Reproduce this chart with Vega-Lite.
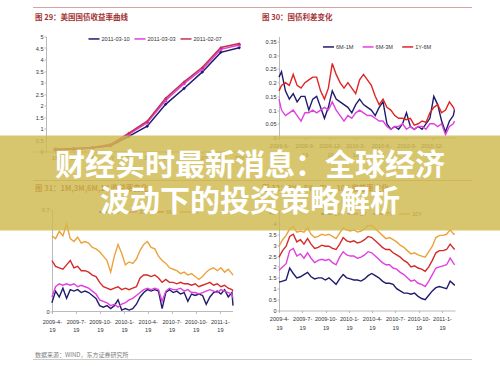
{
  "$schema": "https://vega.github.io/schema/vega-lite/v6.json",
  "background": "white",
  "padding": {"left": 0, "top": 6.5, "right": 0, "bottom": 0},
  "config": {
    "view": {"stroke": null},
    "font": "Liberation Sans",
    "axis": {"grid": false, "domainColor": "#a8a8a8", "domainWidth": 0.8, "tickColor": "#a8a8a8", "tickWidth": 0.8, "tickSize": 2, "labelFont": "Liberation Sans", "labelFontSize": 5.6, "labelColor": "#333333", "labelPadding": 1},
    "legend": {"labelFont": "Liberation Sans", "labelFontSize": 5.6, "labelColor": "#333333", "padding": 0, "labelOffset": 1, "symbolType": "stroke", "symbolSize": 121, "symbolStrokeWidth": 1.5},
    "title": {"font": "Noto Sans CJK SC", "fontSize": 7.5, "fontWeight": "bold", "color": "#a33435", "anchor": "start", "frame": "group"}
  },
  "datasets": {
    "curve": [
      {"term": "1M", "2011-03-10": 0.08, "2011-03-03": 0.10, "2011-02-07": 0.10},
      {"term": "3M", "2011-03-10": 0.10, "2011-03-03": 0.12, "2011-02-07": 0.13},
      {"term": "6M", "2011-03-10": 0.15, "2011-03-03": 0.16, "2011-02-07": 0.17},
      {"term": "1Y", "2011-03-10": 0.25, "2011-03-03": 0.28, "2011-02-07": 0.30},
      {"term": "2Y", "2011-03-10": 0.66, "2011-03-03": 0.75, "2011-02-07": 0.80},
      {"term": "3Y", "2011-03-10": 1.10, "2011-03-03": 1.25, "2011-02-07": 1.32},
      {"term": "5Y", "2011-03-10": 2.05, "2011-03-03": 2.22, "2011-02-07": 2.31},
      {"term": "7Y", "2011-03-10": 2.74, "2011-03-03": 2.95, "2011-02-07": 3.03},
      {"term": "10Y", "2011-03-10": 3.46, "2011-03-03": 3.58, "2011-02-07": 3.66},
      {"term": "20Y", "2011-03-10": 4.31, "2011-03-03": 4.44, "2011-02-07": 4.52},
      {"term": "30Y", "2011-03-10": 4.51, "2011-03-03": 4.63, "2011-02-07": 4.70}
    ],
    "spread": [
      {"d": "2009-06-19", "6M-1M": 0.22, "6M-3M": 0.14, "1Y-6M": 0.17},
      {"d": "2009-06-28", "6M-1M": 0.24, "6M-3M": 0.10, "1Y-6M": 0.19},
      {"d": "2009-07-12", "6M-1M": 0.17, "6M-3M": 0.08, "1Y-6M": 0.20},
      {"d": "2009-07-26", "6M-1M": 0.14, "6M-3M": 0.09, "1Y-6M": 0.19},
      {"d": "2009-08-09", "6M-1M": 0.16, "6M-3M": 0.10, "1Y-6M": 0.23},
      {"d": "2009-08-23", "6M-1M": 0.13, "6M-3M": 0.08, "1Y-6M": 0.19},
      {"d": "2009-09-06", "6M-1M": 0.15, "6M-3M": 0.06, "1Y-6M": 0.18},
      {"d": "2009-09-20", "6M-1M": 0.15, "6M-3M": 0.09, "1Y-6M": 0.20},
      {"d": "2009-10-04", "6M-1M": 0.10, "6M-3M": 0.09, "1Y-6M": 0.21},
      {"d": "2009-10-18", "6M-1M": 0.14, "6M-3M": 0.10, "1Y-6M": 0.22},
      {"d": "2009-11-01", "6M-1M": 0.15, "6M-3M": 0.09, "1Y-6M": 0.22},
      {"d": "2009-11-15", "6M-1M": 0.11, "6M-3M": 0.10, "1Y-6M": 0.17},
      {"d": "2009-11-29", "6M-1M": 0.07, "6M-3M": 0.11, "1Y-6M": 0.14},
      {"d": "2009-12-13", "6M-1M": 0.11, "6M-3M": 0.10, "1Y-6M": 0.18},
      {"d": "2009-12-27", "6M-1M": 0.17, "6M-3M": 0.13, "1Y-6M": 0.27},
      {"d": "2010-01-10", "6M-1M": 0.14, "6M-3M": 0.10, "1Y-6M": 0.23},
      {"d": "2010-01-24", "6M-1M": 0.13, "6M-3M": 0.08, "1Y-6M": 0.20},
      {"d": "2010-02-07", "6M-1M": 0.12, "6M-3M": 0.06, "1Y-6M": 0.18},
      {"d": "2010-02-21", "6M-1M": 0.11, "6M-3M": 0.08, "1Y-6M": 0.20},
      {"d": "2010-03-07", "6M-1M": 0.09, "6M-3M": 0.07, "1Y-6M": 0.18},
      {"d": "2010-03-21", "6M-1M": 0.12, "6M-3M": 0.09, "1Y-6M": 0.16},
      {"d": "2010-04-04", "6M-1M": 0.14, "6M-3M": 0.10, "1Y-6M": 0.21},
      {"d": "2010-04-18", "6M-1M": 0.12, "6M-3M": 0.09, "1Y-6M": 0.23},
      {"d": "2010-05-02", "6M-1M": 0.11, "6M-3M": 0.08, "1Y-6M": 0.21},
      {"d": "2010-05-16", "6M-1M": 0.10, "6M-3M": 0.08, "1Y-6M": 0.19},
      {"d": "2010-05-30", "6M-1M": 0.08, "6M-3M": 0.07, "1Y-6M": 0.15},
      {"d": "2010-06-13", "6M-1M": 0.11, "6M-3M": 0.06, "1Y-6M": 0.12},
      {"d": "2010-06-27", "6M-1M": 0.13, "6M-3M": 0.06, "1Y-6M": 0.14},
      {"d": "2010-07-11", "6M-1M": 0.05, "6M-3M": 0.04, "1Y-6M": 0.11},
      {"d": "2010-07-25", "6M-1M": 0.03, "6M-3M": 0.03, "1Y-6M": 0.10},
      {"d": "2010-08-08", "6M-1M": 0.04, "6M-3M": 0.04, "1Y-6M": 0.08},
      {"d": "2010-08-22", "6M-1M": 0.03, "6M-3M": 0.04, "1Y-6M": 0.07},
      {"d": "2010-09-05", "6M-1M": 0.05, "6M-3M": 0.05, "1Y-6M": 0.07},
      {"d": "2010-09-19", "6M-1M": 0.09, "6M-3M": 0.03, "1Y-6M": 0.065},
      {"d": "2010-10-03", "6M-1M": 0.04, "6M-3M": 0.04, "1Y-6M": 0.07},
      {"d": "2010-10-17", "6M-1M": 0.03, "6M-3M": 0.03, "1Y-6M": 0.045},
      {"d": "2010-10-31", "6M-1M": 0.04, "6M-3M": 0.04, "1Y-6M": 0.05},
      {"d": "2010-11-14", "6M-1M": 0.03, "6M-3M": 0.04, "1Y-6M": 0.06},
      {"d": "2010-11-28", "6M-1M": 0.05, "6M-3M": 0.03, "1Y-6M": 0.055},
      {"d": "2010-12-12", "6M-1M": 0.07, "6M-3M": 0.05, "1Y-6M": 0.09},
      {"d": "2010-12-26", "6M-1M": 0.15, "6M-3M": 0.05, "1Y-6M": 0.11},
      {"d": "2011-01-09", "6M-1M": 0.12, "6M-3M": 0.04, "1Y-6M": 0.12},
      {"d": "2011-01-23", "6M-1M": 0.06, "6M-3M": 0.05, "1Y-6M": 0.09},
      {"d": "2011-02-06", "6M-1M": 0.02, "6M-3M": 0.01, "1Y-6M": 0.10},
      {"d": "2011-02-20", "6M-1M": 0.06, "6M-3M": 0.04, "1Y-6M": 0.13},
      {"d": "2011-03-06", "6M-1M": 0.08, "6M-3M": 0.05, "1Y-6M": 0.11},
      {"d": "2011-03-10", "6M-1M": 0.10, "6M-3M": 0.06, "1Y-6M": 0.10}
    ],
    "short": [
      {"d": "2009-04-19", "1M": 0.06, "3M": 0.10, "6M": 0.35, "1Y": 0.52},
      {"d": "2009-05-03", "1M": 0.14, "3M": 0.17, "6M": 0.31, "1Y": 0.50},
      {"d": "2009-05-17", "1M": 0.10, "3M": 0.19, "6M": 0.30, "1Y": 0.55},
      {"d": "2009-05-31", "1M": 0.16, "3M": 0.18, "6M": 0.29, "1Y": 0.52},
      {"d": "2009-06-14", "1M": 0.09, "3M": 0.19, "6M": 0.32, "1Y": 0.60},
      {"d": "2009-06-28", "1M": 0.15, "3M": 0.18, "6M": 0.35, "1Y": 0.50},
      {"d": "2009-07-12", "1M": 0.14, "3M": 0.19, "6M": 0.30, "1Y": 0.48},
      {"d": "2009-07-26", "1M": 0.15, "3M": 0.17, "6M": 0.31, "1Y": 0.51},
      {"d": "2009-08-09", "1M": 0.13, "3M": 0.18, "6M": 0.28, "1Y": 0.47},
      {"d": "2009-08-23", "1M": 0.14, "3M": 0.17, "6M": 0.28, "1Y": 0.48},
      {"d": "2009-09-06", "1M": 0.13, "3M": 0.16, "6M": 0.27, "1Y": 0.47},
      {"d": "2009-09-20", "1M": 0.11, "3M": 0.14, "6M": 0.25, "1Y": 0.44},
      {"d": "2009-10-04", "1M": 0.09, "3M": 0.12, "6M": 0.24, "1Y": 0.43},
      {"d": "2009-10-18", "1M": 0.04, "3M": 0.08, "6M": 0.20, "1Y": 0.41},
      {"d": "2009-11-01", "1M": 0.03, "3M": 0.07, "6M": 0.17, "1Y": 0.38},
      {"d": "2009-11-15", "1M": 0.04, "3M": 0.06, "6M": 0.16, "1Y": 0.35},
      {"d": "2009-11-29", "1M": 0.02, "3M": 0.04, "6M": 0.15, "1Y": 0.27},
      {"d": "2009-12-13", "1M": 0.04, "3M": 0.05, "6M": 0.16, "1Y": 0.38},
      {"d": "2009-12-27", "1M": 0.08, "3M": 0.03, "6M": 0.17, "1Y": 0.46},
      {"d": "2010-01-10", "1M": 0.01, "3M": 0.05, "6M": 0.15, "1Y": 0.40},
      {"d": "2010-01-24", "1M": 0.02, "3M": 0.06, "6M": 0.16, "1Y": 0.32},
      {"d": "2010-02-07", "1M": 0.01, "3M": 0.08, "6M": 0.15, "1Y": 0.34},
      {"d": "2010-02-21", "1M": 0.02, "3M": 0.09, "6M": 0.16, "1Y": 0.33},
      {"d": "2010-03-07", "1M": 0.05, "3M": 0.11, "6M": 0.17, "1Y": 0.36},
      {"d": "2010-03-21", "1M": 0.10, "3M": 0.13, "6M": 0.23, "1Y": 0.42},
      {"d": "2010-04-04", "1M": 0.13, "3M": 0.15, "6M": 0.25, "1Y": 0.46},
      {"d": "2010-04-18", "1M": 0.15, "3M": 0.16, "6M": 0.25, "1Y": 0.48},
      {"d": "2010-05-02", "1M": 0.14, "3M": 0.15, "6M": 0.24, "1Y": 0.44},
      {"d": "2010-05-16", "1M": 0.15, "3M": 0.16, "6M": 0.25, "1Y": 0.43},
      {"d": "2010-05-30", "1M": 0.14, "3M": 0.15, "6M": 0.23, "1Y": 0.38},
      {"d": "2010-06-13", "1M": 0.02, "3M": 0.07, "6M": 0.20, "1Y": 0.35},
      {"d": "2010-06-27", "1M": 0.13, "3M": 0.14, "6M": 0.22, "1Y": 0.33},
      {"d": "2010-07-11", "1M": 0.15, "3M": 0.16, "6M": 0.20, "1Y": 0.30},
      {"d": "2010-07-25", "1M": 0.13, "3M": 0.15, "6M": 0.20, "1Y": 0.29},
      {"d": "2010-08-08", "1M": 0.14, "3M": 0.15, "6M": 0.19, "1Y": 0.28},
      {"d": "2010-08-22", "1M": 0.12, "3M": 0.16, "6M": 0.20, "1Y": 0.26},
      {"d": "2010-09-05", "1M": 0.13, "3M": 0.14, "6M": 0.19, "1Y": 0.27},
      {"d": "2010-09-19", "1M": 0.07, "3M": 0.15, "6M": 0.19, "1Y": 0.25},
      {"d": "2010-10-03", "1M": 0.12, "3M": 0.13, "6M": 0.18, "1Y": 0.26},
      {"d": "2010-10-17", "1M": 0.11, "3M": 0.13, "6M": 0.19, "1Y": 0.24},
      {"d": "2010-10-31", "1M": 0.12, "3M": 0.12, "6M": 0.17, "1Y": 0.22},
      {"d": "2010-11-14", "1M": 0.11, "3M": 0.13, "6M": 0.18, "1Y": 0.24},
      {"d": "2010-11-28", "1M": 0.05, "3M": 0.14, "6M": 0.19, "1Y": 0.27},
      {"d": "2010-12-12", "1M": 0.10, "3M": 0.15, "6M": 0.20, "1Y": 0.29},
      {"d": "2010-12-26", "1M": 0.13, "3M": 0.14, "6M": 0.18, "1Y": 0.30},
      {"d": "2011-01-09", "1M": 0.14, "3M": 0.13, "6M": 0.19, "1Y": 0.28},
      {"d": "2011-01-23", "1M": 0.12, "3M": 0.15, "6M": 0.17, "1Y": 0.30},
      {"d": "2011-02-06", "1M": 0.15, "3M": 0.14, "6M": 0.18, "1Y": 0.27},
      {"d": "2011-02-20", "1M": 0.10, "3M": 0.13, "6M": 0.16, "1Y": 0.29},
      {"d": "2011-03-06", "1M": 0.13, "3M": 0.12, "6M": 0.15, "1Y": 0.26},
      {"d": "2011-03-10", "1M": 0.04, "3M": 0.09, "6M": 0.14, "1Y": 0.25}
    ],
    "long": [
      {"d": "2009-04-19", "3Y": 1.30, "5Y": 1.85, "7Y": 2.45, "10Y": 2.95},
      {"d": "2009-05-03", "3Y": 1.35, "5Y": 2.00, "7Y": 2.75, "10Y": 3.25},
      {"d": "2009-05-17", "3Y": 1.40, "5Y": 2.15, "7Y": 2.95, "10Y": 3.45},
      {"d": "2009-05-31", "3Y": 1.95, "5Y": 2.75, "7Y": 3.40, "10Y": 3.75},
      {"d": "2009-06-14", "3Y": 1.70, "5Y": 2.85, "7Y": 3.50, "10Y": 3.85},
      {"d": "2009-06-28", "3Y": 1.50, "5Y": 2.50, "7Y": 3.15, "10Y": 3.60},
      {"d": "2009-07-12", "3Y": 1.55, "5Y": 2.60, "7Y": 3.25, "10Y": 3.65},
      {"d": "2009-07-26", "3Y": 1.65, "5Y": 2.40, "7Y": 3.05, "10Y": 3.60},
      {"d": "2009-08-09", "3Y": 1.75, "5Y": 2.65, "7Y": 3.30, "10Y": 3.80},
      {"d": "2009-08-23", "3Y": 1.55, "5Y": 2.40, "7Y": 3.05, "10Y": 3.50},
      {"d": "2009-09-06", "3Y": 1.45, "5Y": 2.20, "7Y": 2.85, "10Y": 3.35},
      {"d": "2009-09-20", "3Y": 1.50, "5Y": 2.30, "7Y": 2.90, "10Y": 3.40},
      {"d": "2009-10-04", "3Y": 1.50, "5Y": 2.35, "7Y": 3.00, "10Y": 3.50},
      {"d": "2009-10-18", "3Y": 1.40, "5Y": 2.30, "7Y": 2.95, "10Y": 3.45},
      {"d": "2009-11-01", "3Y": 1.50, "5Y": 2.35, "7Y": 2.95, "10Y": 3.50},
      {"d": "2009-11-15", "3Y": 1.35, "5Y": 2.20, "7Y": 2.85, "10Y": 3.40},
      {"d": "2009-11-29", "3Y": 1.20, "5Y": 2.10, "7Y": 2.80, "10Y": 3.30},
      {"d": "2009-12-13", "3Y": 1.45, "5Y": 2.45, "7Y": 3.05, "10Y": 3.55},
      {"d": "2009-12-27", "3Y": 1.65, "5Y": 2.70, "7Y": 3.35, "10Y": 3.80},
      {"d": "2010-01-10", "3Y": 1.50, "5Y": 2.55, "7Y": 3.20, "10Y": 3.70},
      {"d": "2010-01-24", "3Y": 1.45, "5Y": 2.50, "7Y": 3.15, "10Y": 3.65},
      {"d": "2010-02-07", "3Y": 1.40, "5Y": 2.50, "7Y": 3.20, "10Y": 3.70},
      {"d": "2010-02-21", "3Y": 1.40, "5Y": 2.40, "7Y": 3.10, "10Y": 3.60},
      {"d": "2010-03-07", "3Y": 1.35, "5Y": 2.45, "7Y": 3.15, "10Y": 3.65},
      {"d": "2010-03-21", "3Y": 1.45, "5Y": 2.55, "7Y": 3.25, "10Y": 3.75},
      {"d": "2010-04-04", "3Y": 1.60, "5Y": 2.70, "7Y": 3.40, "10Y": 3.90},
      {"d": "2010-04-18", "3Y": 1.70, "5Y": 2.65, "7Y": 3.35, "10Y": 3.90},
      {"d": "2010-05-02", "3Y": 1.60, "5Y": 2.50, "7Y": 3.20, "10Y": 3.75},
      {"d": "2010-05-16", "3Y": 1.50, "5Y": 2.35, "7Y": 3.05, "10Y": 3.60},
      {"d": "2010-05-30", "3Y": 1.35, "5Y": 2.20, "7Y": 2.90, "10Y": 3.45},
      {"d": "2010-06-13", "3Y": 1.25, "5Y": 2.10, "7Y": 2.80, "10Y": 3.30},
      {"d": "2010-06-27", "3Y": 1.25, "5Y": 2.10, "7Y": 2.80, "10Y": 3.35},
      {"d": "2010-07-11", "3Y": 1.20, "5Y": 1.95, "7Y": 2.65, "10Y": 3.25},
      {"d": "2010-07-25", "3Y": 1.00, "5Y": 1.90, "7Y": 2.55, "10Y": 3.15},
      {"d": "2010-08-08", "3Y": 0.90, "5Y": 1.75, "7Y": 2.45, "10Y": 3.00},
      {"d": "2010-08-22", "3Y": 0.80, "5Y": 1.65, "7Y": 2.30, "10Y": 2.90},
      {"d": "2010-09-05", "3Y": 0.80, "5Y": 1.50, "7Y": 2.20, "10Y": 2.75},
      {"d": "2010-09-19", "3Y": 0.75, "5Y": 1.35, "7Y": 2.00, "10Y": 2.60},
      {"d": "2010-10-03", "3Y": 0.80, "5Y": 1.40, "7Y": 2.05, "10Y": 2.65},
      {"d": "2010-10-17", "3Y": 0.65, "5Y": 1.25, "7Y": 1.95, "10Y": 2.55},
      {"d": "2010-10-31", "3Y": 0.55, "5Y": 1.20, "7Y": 1.90, "10Y": 2.50},
      {"d": "2010-11-14", "3Y": 0.50, "5Y": 1.10, "7Y": 1.80, "10Y": 2.45},
      {"d": "2010-11-28", "3Y": 0.70, "5Y": 1.35, "7Y": 2.00, "10Y": 2.70},
      {"d": "2010-12-12", "3Y": 0.90, "5Y": 1.65, "7Y": 2.30, "10Y": 2.95},
      {"d": "2010-12-26", "3Y": 1.05, "5Y": 1.95, "7Y": 2.65, "10Y": 3.35},
      {"d": "2011-01-09", "3Y": 1.10, "5Y": 2.00, "7Y": 2.75, "10Y": 3.45},
      {"d": "2011-01-23", "3Y": 1.05, "5Y": 2.05, "7Y": 2.75, "10Y": 3.45},
      {"d": "2011-02-06", "3Y": 1.00, "5Y": 2.10, "7Y": 2.80, "10Y": 3.50},
      {"d": "2011-02-20", "3Y": 1.35, "5Y": 2.40, "7Y": 3.05, "10Y": 3.70},
      {"d": "2011-03-06", "3Y": 1.20, "5Y": 2.15, "7Y": 2.85, "10Y": 3.50},
      {"d": "2011-03-10", "3Y": 1.15, "5Y": 2.10, "7Y": 2.80, "10Y": 3.50}
    ],
    "banner": [
      {"line": 1, "t": "财经实时最新消息：全球经济"},
      {"line": 2, "t": "波动下的投资策略解析"}
    ]
  },
  "bounds": "flush",
  "spacing": 128,
  "resolve": {"scale": {"color": "independent", "shape": "independent"}},
  "vconcat": [
    {
      "columns": 5,
      "bounds": "flush",
      "spacing": 0,
      "resolve": {"scale": {"color": "independent", "shape": "independent"}},
      "concat": [
        {"width": 33, "height": 1, "data": {"values": []}, "mark": "point"},
        {"width": 215, "height": 29, "data": {"values": [{}]}, "mark": {"type": "rule", "color": "#d8a3a3", "strokeWidth": 1}, "encoding": {"y": {"datum": 1, "type": "quantitative", "scale": {"domain": [0, 1]}, "axis": null}}},
        {"width": 31, "height": 29, "data": {"values": [{}]}, "mark": {"type": "rule", "color": "#d8a3a3", "strokeWidth": 1}, "encoding": {"y": {"datum": 1, "type": "quantitative", "scale": {"domain": [0, 1]}, "axis": null}}},
        {"width": 176, "height": 29, "data": {"values": [{}]}, "mark": {"type": "rule", "color": "#d8a3a3", "strokeWidth": 1}, "encoding": {"y": {"datum": 1, "type": "quantitative", "scale": {"domain": [0, 1]}, "axis": null}}},
        {"width": 17, "height": 29, "data": {"values": [{}]}, "mark": {"type": "rule", "color": "#d8a3a3", "strokeWidth": 1}, "encoding": {"y": {"datum": 1, "type": "quantitative", "scale": {"domain": [0, 1]}, "axis": null}}},

        {"width": 33, "height": 1, "data": {"values": []}, "mark": "point"},
        {
          "width": 215, "height": 115,
          "title": {"text": "图 29：美国国债收益率曲线", "offset": 10.6, "dx": 2},
          "data": {"name": "curve"},
          "transform": [{"fold": ["2011-03-10", "2011-03-03", "2011-02-07"], "as": ["s", "v"]}],
          "encoding": {
            "x": {"field": "term", "type": "ordinal", "sort": null, "scale": {"type": "point", "padding": 0.8424, "align": 0.716}, "title": null, "axis": {"labelAngle": 0, "labelPadding": 2}},
            "y": {"field": "v", "type": "quantitative", "scale": {"domain": [0, 5]}, "title": null, "axis": {"values": [0, 0.5, 1, 1.5, 2, 2.5, 3, 3.5, 4, 4.5, 5], "format": ".1~f", "offset": -13}}
          },
          "layer": [
            {"mark": {"type": "line", "strokeWidth": 1.5}, "encoding": {"color": {"field": "s", "type": "nominal", "scale": {"domain": ["2011-03-10", "2011-03-03", "2011-02-07"], "range": ["#1f1b6d", "#e040e0", "#c23049"]}, "legend": {"orient": "none", "legendX": 54.5, "legendY": -4.5, "direction": "horizontal", "title": null, "symbolType": "stroke", "columnPadding": 1}}}},
            {"transform": [{"filter": {"field": "s", "equal": "2011-03-10"}}], "mark": {"type": "point", "filled": true, "size": 12, "opacity": 1, "shape": "diamond", "color": "#1f1b6d"}},
            {"transform": [{"filter": {"field": "s", "equal": "2011-03-03"}}], "mark": {"type": "point", "filled": true, "size": 10, "opacity": 1, "shape": "square", "color": "#e040e0"}},
            {"transform": [{"filter": {"field": "s", "equal": "2011-02-07"}}], "mark": {"type": "point", "filled": true, "size": 12, "opacity": 1, "shape": "triangle-up", "color": "#c23049"}}
          ]
        },
        {"width": 31, "height": 1, "data": {"values": []}, "mark": "point"},
        {
          "width": 176, "height": 101,
          "title": {"text": "图 30：国债利差变化", "offset": 15.1, "dx": -17},
          "data": {"name": "spread"},
          "transform": [{"fold": ["6M-1M", "6M-3M", "1Y-6M"], "as": ["s", "v"]}],
          "mark": {"type": "line", "strokeWidth": 1.4},
          "encoding": {
            "x": {"field": "d", "type": "temporal", "scale": {"domain": [{"year": 2009, "month": 6, "date": 19}, {"year": 2011, "month": 3, "date": 12}]}, "title": null, "axis": {"values": [{"year": 2009, "month": 6, "date": 19}, {"year": 2009, "month": 9, "date": 19}, {"year": 2009, "month": 12, "date": 19}, {"year": 2010, "month": 3, "date": 19}, {"year": 2010, "month": 6, "date": 19}, {"year": 2010, "month": 9, "date": 19}, {"year": 2010, "month": 12, "date": 19}], "labelExpr": "[timeFormat(datum.value, '%Y-%-m-'), timeFormat(datum.value, '%-d')]", "labelLineHeight": 9, "labelPadding": 4, "labelOverlap": false, "labelFlush": false}},
            "y": {"field": "v", "type": "quantitative", "scale": {"domain": [0, 0.3682]}, "title": null, "axis": {"values": [0, 0.05, 0.1, 0.15, 0.2, 0.25, 0.3, 0.35], "format": ".2~f"}},
            "color": {"field": "s", "type": "nominal", "scale": {"domain": ["6M-1M", "6M-3M", "1Y-6M"], "range": ["#1f1b6d", "#e040e0", "#e02424"]}, "legend": {"orient": "none", "legendX": 43, "legendY": 3.5, "direction": "horizontal", "title": null, "columnPadding": 5.6}}
          }
        },
        {"width": 17, "height": 1, "data": {"values": []}, "mark": "point"},

        {"width": 33, "height": 1, "data": {"values": []}, "mark": "point"},
        {"width": 215, "height": 58, "data": {"values": [{}]}, "mark": {"type": "rule", "color": "#d8a3a3", "strokeWidth": 1}, "encoding": {"y": {"datum": 0.5, "type": "quantitative", "scale": {"domain": [0, 1]}, "axis": null}}},
        {"width": 31, "height": 58, "data": {"values": [{}]}, "mark": {"type": "rule", "color": "#d8a3a3", "strokeWidth": 1}, "encoding": {"y": {"datum": 0.5, "type": "quantitative", "scale": {"domain": [0, 1]}, "axis": null}}},
        {"width": 176, "height": 58, "data": {"values": [{}]}, "mark": {"type": "rule", "color": "#d8a3a3", "strokeWidth": 1}, "encoding": {"y": {"datum": 0.5, "type": "quantitative", "scale": {"domain": [0, 1]}, "axis": null}}},
        {"width": 17, "height": 58, "data": {"values": [{}]}, "mark": {"type": "rule", "color": "#d8a3a3", "strokeWidth": 1}, "encoding": {"y": {"datum": 0.5, "type": "quantitative", "scale": {"domain": [0, 1]}, "axis": null}}},

        {"width": 33, "height": 1, "data": {"values": []}, "mark": "point"},
        {
          "width": 200, "height": 102,
          "title": {"text": "图 31：1M,3M,6M,1Y 收益率变化", "offset": 12.6, "dx": 2},
          "layer": [
            {
              "data": {"name": "short"},
              "transform": [{"fold": ["1M", "3M", "6M", "1Y"], "as": ["s", "v"]}],
              "mark": {"type": "line", "strokeWidth": 1.4},
              "encoding": {
                "x": {"field": "d", "type": "temporal", "scale": {"domain": [{"year": 2009, "month": 2, "date": 6}, {"year": 2011, "month": 3, "date": 10}]}, "title": null, "axis": {"values": [{"year": 2009, "month": 4, "date": 19}, {"year": 2009, "month": 7, "date": 19}, {"year": 2009, "month": 10, "date": 19}, {"year": 2010, "month": 1, "date": 19}, {"year": 2010, "month": 4, "date": 19}, {"year": 2010, "month": 7, "date": 19}, {"year": 2010, "month": 10, "date": 19}, {"year": 2011, "month": 1, "date": 19}], "labelExpr": "[timeFormat(datum.value, '%Y-%-m-'), timeFormat(datum.value, '%-d')]", "labelLineHeight": 8.5, "labelPadding": 5.8, "labelOverlap": false, "labelFlush": false, "domain": false}},
                "y": {"field": "v", "type": "quantitative", "scale": {"domain": [0, 0.7]}, "title": null, "axis": {"values": [0, 0.1, 0.2, 0.3, 0.4, 0.5, 0.6, 0.7], "format": ".1~f", "offset": -19}},
                "color": {"field": "s", "type": "nominal", "scale": {"domain": ["1M", "3M", "6M", "1Y"], "range": ["#1f1b6d", "#e040e0", "#d42a2a", "#eba23a"]}, "legend": {"orient": "none", "legendX": 65, "legendY": -4.5, "direction": "horizontal", "title": null, "columnPadding": 3}}
              }
            },
            {
              "data": {"values": [{}]},
              "mark": {"type": "rule", "color": "#a8a8a8", "strokeWidth": 0.8},
              "encoding": {
                "x": {"datum": {"year": 2009, "month": 4, "date": 19}, "type": "temporal", "title": null, "axis": {"values": [{"year": 2009, "month": 4, "date": 19}, {"year": 2009, "month": 7, "date": 19}, {"year": 2009, "month": 10, "date": 19}, {"year": 2010, "month": 1, "date": 19}, {"year": 2010, "month": 4, "date": 19}, {"year": 2010, "month": 7, "date": 19}, {"year": 2010, "month": 10, "date": 19}, {"year": 2011, "month": 1, "date": 19}], "labelExpr": "[timeFormat(datum.value, '%Y-%-m-'), timeFormat(datum.value, '%-d')]", "labelLineHeight": 8.5, "labelPadding": 5.8, "labelOverlap": false, "labelFlush": false, "domain": false}},
                "x2": {"datum": {"year": 2011, "month": 3, "date": 10}},
                "y": {"datum": 0, "type": "quantitative"}
              }
            }
          ]
        },
        {"width": 31, "height": 1, "data": {"values": []}, "mark": "point"},
        {
          "width": 176, "height": 101,
          "title": {"text": "图 32：3Y、5Y、7Y、10Y 收益率变化", "offset": 14.6, "dx": -17},
          "data": {"name": "long"},
          "transform": [{"fold": ["3Y", "5Y", "7Y", "10Y"], "as": ["s", "v"]}],
          "mark": {"type": "line", "strokeWidth": 1.4},
          "encoding": {
            "x": {"field": "d", "type": "temporal", "scale": {"domain": [{"year": 2009, "month": 4, "date": 19}, {"year": 2011, "month": 3, "date": 11}]}, "title": null, "axis": {"values": [{"year": 2009, "month": 4, "date": 19}, {"year": 2009, "month": 7, "date": 19}, {"year": 2009, "month": 10, "date": 19}, {"year": 2010, "month": 1, "date": 19}, {"year": 2010, "month": 4, "date": 19}, {"year": 2010, "month": 7, "date": 19}, {"year": 2010, "month": 10, "date": 19}, {"year": 2011, "month": 1, "date": 19}], "labelExpr": "[timeFormat(datum.value, '%Y-%-m-'), timeFormat(datum.value, '%-d')]", "labelLineHeight": 9.4, "labelPadding": 3.5, "labelOverlap": false, "labelFlush": false}},
            "y": {"field": "v", "type": "quantitative", "scale": {"domain": [0, 4.6377]}, "title": null, "axis": {"values": [0, 0.5, 1, 1.5, 2, 2.5, 3, 3.5, 4, 4.5], "format": ".1~f"}},
            "color": {"field": "s", "type": "nominal", "scale": {"domain": ["3Y", "5Y", "7Y", "10Y"], "range": ["#1f1b6d", "#e040e0", "#d42a2a", "#eba23a"]}, "legend": {"orient": "none", "legendX": 41, "legendY": -2.5, "direction": "horizontal", "title": null, "columnPadding": 3}}
          }
        },
        {"width": 17, "height": 1, "data": {"values": []}, "mark": "point"},

        {"width": 33, "height": 1, "data": {"values": []}, "mark": "point"},
        {"width": 215, "height": 48, "data": {"values": []}, "mark": "point"},
        {"width": 31, "height": 1, "data": {"values": []}, "mark": "point"},
        {"width": 176, "height": 1, "data": {"values": []}, "mark": "point"},
        {"width": 17, "height": 1, "data": {"values": []}, "mark": "point"},

        {"width": 33, "height": 1, "data": {"values": []}, "mark": "point"},
        {"width": 215, "height": 1, "title": {"text": "数据来源：WIND，东方证券研究所", "fontSize": 6, "fontWeight": "normal", "color": "#808080", "offset": 1, "dx": 2}, "data": {"values": [{}]}, "mark": {"type": "rule", "color": "#cfcac4", "strokeWidth": 1}, "encoding": {"y": {"datum": 1, "type": "quantitative", "scale": {"domain": [0, 1]}, "axis": null}}},
        {"width": 31, "height": 1, "data": {"values": [{}]}, "mark": {"type": "rule", "color": "#cfcac4", "strokeWidth": 1}, "encoding": {"y": {"datum": 1, "type": "quantitative", "scale": {"domain": [0, 1]}, "axis": null}}},
        {"width": 176, "height": 1, "data": {"values": [{}]}, "mark": {"type": "rule", "color": "#cfcac4", "strokeWidth": 1}, "encoding": {"y": {"datum": 1, "type": "quantitative", "scale": {"domain": [0, 1]}, "axis": null}}},
        {"width": 17, "height": 1, "data": {"values": [{}]}, "mark": {"type": "rule", "color": "#cfcac4", "strokeWidth": 1}, "encoding": {"y": {"datum": 1, "type": "quantitative", "scale": {"domain": [0, 1]}, "axis": null}}}
      ]
    },
    {
      "width": 500, "height": 95,
      "view": {"fill": "#d0ba4e", "fillOpacity": 0.82, "stroke": null},
      "data": {"name": "banner"},
      "mark": {"type": "text", "font": "Noto Sans CJK SC", "fontSize": 30, "fontWeight": "bold", "color": "#ffffff", "dy": 1, "baseline": "middle"},
      "encoding": {
        "y": {"field": "line", "type": "ordinal", "axis": null, "scale": {"type": "point", "padding": 0.82}},
        "text": {"field": "t"}
      }
    }
  ]
}
